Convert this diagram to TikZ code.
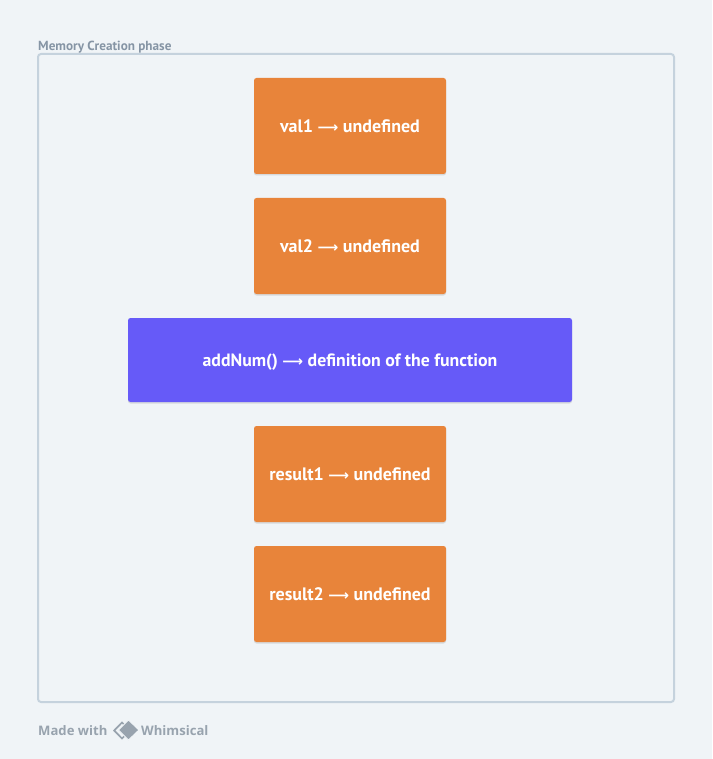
\documentclass[tikz,border=0pt]{standalone}
\usepackage{fontspec}
\setmainfont{PT Sans}
\newfontfamily\arrowfont{DejaVu Sans}
\newfontfamily\logofont{Open Sans}
\usetikzlibrary{shadows}
\definecolor{bgc}{HTML}{F0F4F7}
\definecolor{framec}{HTML}{C5D2DD}
\definecolor{orangec}{HTML}{E8843A}
\definecolor{violetc}{HTML}{665AF8}
\definecolor{labelc}{HTML}{8695A5}
\definecolor{logoc}{HTML}{98A3AE}
\newcommand{\longarr}{{\arrowfont\fontsize{14.5}{17}\selectfont\symbol{"27F6}}}
\newcommand{\boxline}[1]{\raisebox{-6.5pt}[0pt][0pt]{#1}}
\tikzset{
  x=1pt,y=-1pt,
  softshadow/.style={general shadow={fill=black!60!bgc,opacity=.18,shadow xshift=0pt,shadow yshift=-1.5pt,scale=1.0}},
  boxbase/.style={rounded corners=2.5pt,minimum height=96pt,text=white,font=\fontsize{18}{19}\selectfont\bfseries,inner sep=0pt,softshadow},
  orangebox/.style={boxbase,fill=orangec,minimum width=192pt},
  violetbox/.style={boxbase,fill=violetc,minimum width=444pt,minimum height=84pt,font=\fontsize{17.8}{19}\selectfont\bfseries},
  framebox/.style={draw=framec,line width=2pt,rounded corners=3pt},
  logotext/.style={anchor=base west,text=logoc,font=\logofont\fontsize{13.1}{16}\selectfont\bfseries,inner sep=0pt},
}
\begin{document}
\begin{tikzpicture}
\fill[bgc] (0,0) rectangle (712,759);
\useasboundingbox (0,0) rectangle (712,759);
\draw[framebox] (38,54) rectangle (674,702);
\node[anchor=base west,text=labelc,font=\fontsize{13.2}{14}\selectfont\bfseries,inner sep=0pt] (title) at (38,51) {Memory Creation phase};
\node[orangebox] (val1) at (350,126) {\boxline{val1 \longarr{} undefined}};
\node[orangebox] (val2) at (350,246) {\boxline{val2 \longarr{} undefined}};
\node[violetbox] (addnum) at (350,360) {\boxline{addNum() \longarr{} definition of the function}};
\node[orangebox] (res1) at (350,474) {\boxline{result1 \longarr{} undefined}};
\node[orangebox] (res2) at (350,594) {\boxline{result2 \longarr{} undefined}};
\node[logotext] (made) at (38,735) {Made with};
\node[logotext] (whim) at (141,735) {Whimsical};
\draw[logoc,line width=1.7pt,line join=miter] (122,722.5) -- (114.2,730.5) -- (122,738.5) -- (130,730.5) -- cycle;
\fill[logoc,draw=bgc,line width=1pt] (128.5,720) -- (139,730) -- (128.5,740) -- (118.5,730) -- cycle;
\end{tikzpicture}
\end{document}
